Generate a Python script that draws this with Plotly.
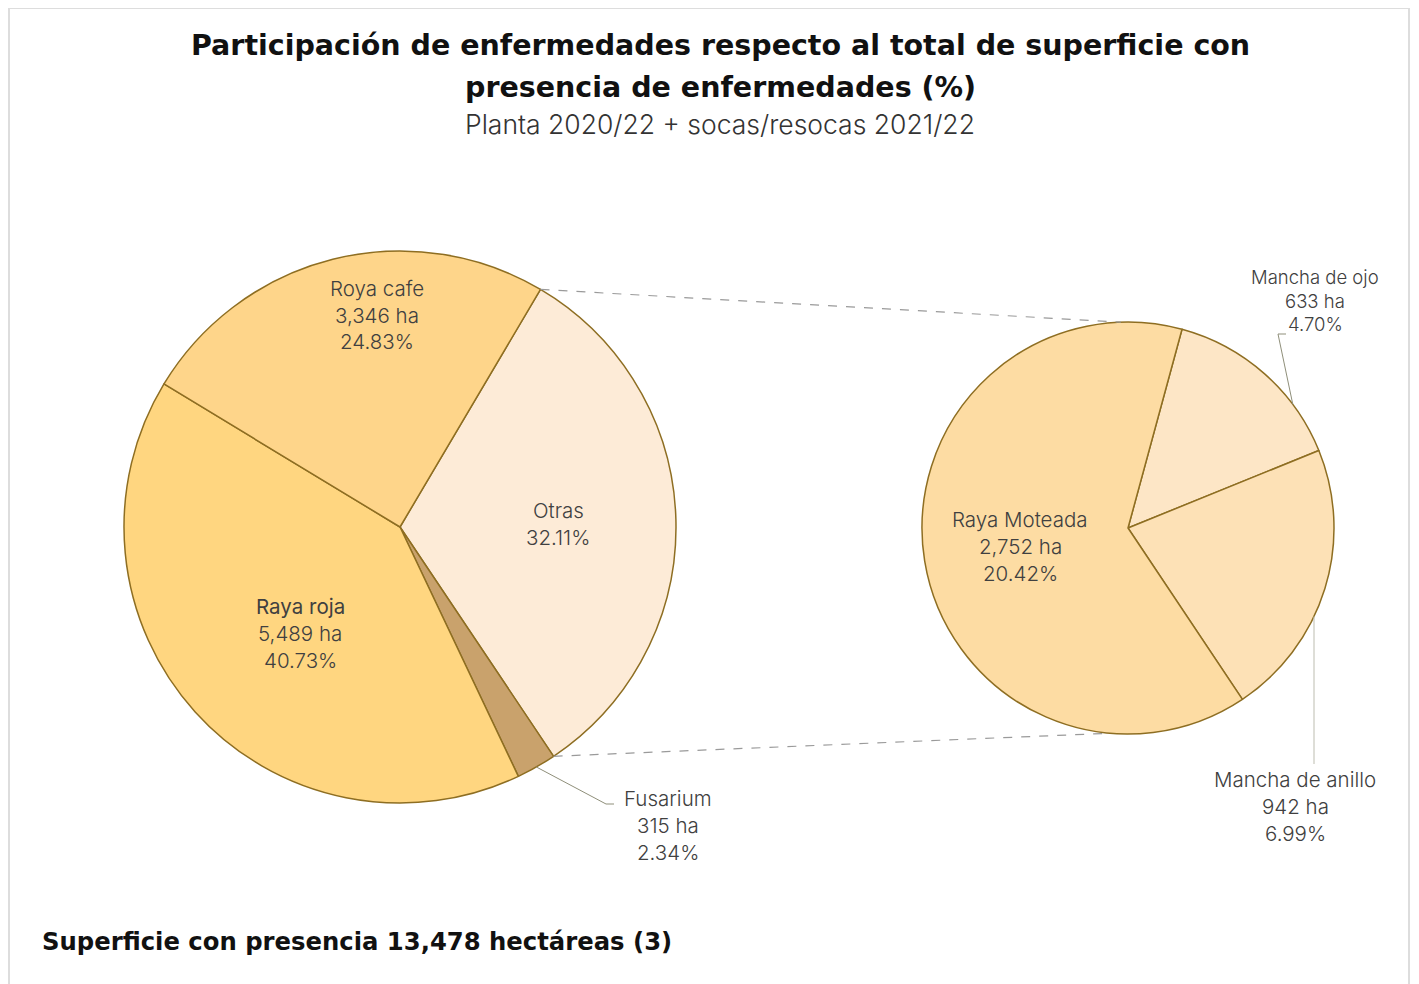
import math
import plotly.graph_objects as go

W, H = 1419, 984
OFF = 8  # page body margin

# ---- data ----
left_labels = ["Otras", "Fusarium", "Raya roja", "Roya cafe"]
left_values = [32.11, 2.34, 40.73, 24.83]
left_ha = [None, 315, 5489, 3346]
left_colors = ["#FDEBD7", "#C9A26C", "#FFD680", "#FED58A"]

right_labels = ["Mancha de ojo", "Mancha de anillo", "Raya Moteada"]
right_values = [4.70, 6.99, 20.42]
right_ha = [633, 942, 2752]
right_colors = ["#FDE6C6", "#FDE1B6", "#FDDCA3"]

total_ha = 13478

title_l1 = "Participación de enfermedades respecto al total de superficie con"
title_l2 = "presencia de enfermedades (%)"
subtitle = "Planta 2020/22 + socas/resocas 2021/22"
footer = "Superficie con presencia 13,478 hectáreas (3)"

# ---- geometry (pixels) ----
L_CX, L_CY, L_R = 400, 527, 276
R_CX, R_CY, R_R = 1128, 528, 206
L_ROT, R_ROT = 30.6, 15.2
EDGE = "#8E6E22"
TXT = "#404040"
FONT = "Inter"
BOLD = "DejaVu Sans"


def px(x):
    return (x - OFF) / W


def py(y):
    return 1 - (y - OFF) / H


def dom(cx, cy, r):
    return dict(x=[px(cx - r), px(cx + r)], y=[py(cy + r), py(cy - r)])


def polar(cx, cy, r, ang):
    a = math.radians(ang)
    return cx + r * math.sin(a), cy - r * math.cos(a)


fig = go.Figure()
fig.add_trace(go.Pie(
    labels=left_labels, values=left_values, sort=False, direction="clockwise",
    rotation=L_ROT, domain=dom(L_CX, L_CY, L_R), textinfo="none",
    marker=dict(colors=left_colors, line=dict(color=EDGE, width=1.5)),
    showlegend=False, hoverinfo="label+percent",
))
fig.add_trace(go.Pie(
    labels=right_labels, values=right_values, sort=False, direction="clockwise",
    rotation=R_ROT, domain=dom(R_CX, R_CY, R_R), textinfo="none",
    marker=dict(colors=right_colors, line=dict(color=EDGE, width=1.5)),
    showlegend=False, hoverinfo="label+value",
))

shapes = []
# frame
shapes.append(dict(type="rect", xref="paper", yref="paper", x0=px(9), x1=px(1409),
                   y0=py(1000), y1=py(8), line=dict(color="#DDDDDD", width=2)))

# dashed connectors from the "Otras" slice edges to the secondary pie
tot_left = sum(left_values)
a0 = L_ROT
a1 = L_ROT + 360 * left_values[0] / tot_left
p0 = polar(L_CX, L_CY, L_R, a0)
p1 = polar(L_CX, L_CY, L_R, a1)
q0 = polar(R_CX, R_CY, R_R, -2)
q1 = polar(R_CX, R_CY, R_R, 185)
for (ax, ay), (bx, by) in [(p0, q0), (p1, q1)]:
    shapes.append(dict(type="line", xref="paper", yref="paper",
                       x0=px(ax), y0=py(ay), x1=px(bx), y1=py(by),
                       line=dict(color="#9A9A9A", width=1.2, dash="dash")))


def seg(pts, color="#8F8F7A"):
    for (xa, ya), (xb, yb) in zip(pts[:-1], pts[1:]):
        shapes.append(dict(type="line", xref="paper", yref="paper",
                           x0=px(xa), y0=py(ya), x1=px(xb), y1=py(yb),
                           line=dict(color=color, width=1)))


fus_mid = L_ROT + 360 * (left_values[0] + left_values[1] / 2) / tot_left
fx, fy = polar(L_CX, L_CY, L_R, fus_mid)
seg([(fx, fy), (606, 804), (614, 804)])

tot_right = sum(right_values)
ojo_mid = R_ROT + 360 * (right_values[0] * 0.72) / tot_right
ox, oy = polar(R_CX, R_CY, R_R, ojo_mid)
seg([(ox, oy), (1278, 334), (1286, 334)])

ani_x = 1314
ani_y0 = R_CY + math.sqrt(max(R_R ** 2 - (ani_x - R_CX) ** 2, 0))
seg([(ani_x, ani_y0), (ani_x, 764)], color="#BDBDB0")

annotations = []


def ann(text, x, y, size=20.5, color=TXT, weight=300, xanchor="center", family=FONT):
    annotations.append(dict(text=text, x=px(x), y=py(y), xref="paper", yref="paper",
                            showarrow=False, xanchor=xanchor, yanchor="middle",
                            font=dict(family=family, size=size, color=color, weight=weight)))


def block(lines, x, y, dy=27, first_weight=300, size=20.5):
    for i, t in enumerate(lines):
        ann(t, x, y + i * dy, weight=first_weight if i == 0 else 300, size=size)


# titles
ann(title_l1, 720, 46, size=28.5, color="#111111", weight=700, family=BOLD)
ann(title_l2, 720, 87, size=28.5, color="#111111", weight=700, family=BOLD)
ann(subtitle, 720, 124, size=26.5, color="#333333", weight=300)
ann(footer, 40, 941, size=24.3, color="#111111", weight=700, xanchor="left", family=BOLD)

fmt_ha = lambda v: f"{v:,} ha"
fmt_p = lambda v: f"{v:.2f}%"

block([left_labels[3], fmt_ha(left_ha[3]), fmt_p(left_values[3])], 377, 288)
block([left_labels[2], fmt_ha(left_ha[2]), fmt_p(left_values[2])], 300, 606, first_weight=400)
block([left_labels[0], fmt_p(left_values[0])], 558, 510)
block([left_labels[1], fmt_ha(left_ha[1]), fmt_p(left_values[1])], 668, 798)
block([right_labels[2], fmt_ha(right_ha[2]), fmt_p(right_values[2])], 1020, 519)
for i, t in enumerate([right_labels[0], fmt_ha(right_ha[0]), fmt_p(right_values[0])]):
    ann(t, 1315, 277 + i * 23.5, size=18.5)
block([right_labels[1], fmt_ha(right_ha[1]), fmt_p(right_values[1])], 1295, 779)

fig.update_layout(
    width=W, height=H, margin=dict(l=0, r=0, t=0, b=0),
    paper_bgcolor="white", plot_bgcolor="white",
    shapes=shapes, annotations=annotations,
)

fig.write_html("out.html")
